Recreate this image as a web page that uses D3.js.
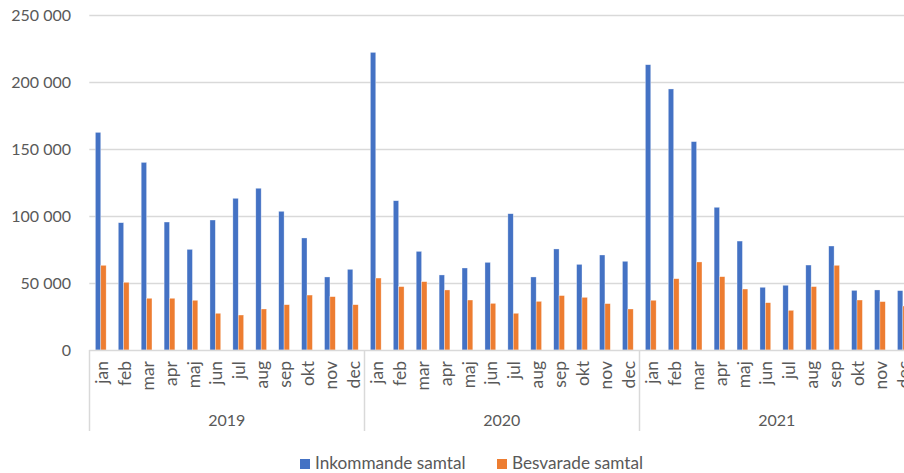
<!DOCTYPE html>
<html>
<head>
<meta charset="utf-8">
<script src="https://cdn.jsdelivr.net/npm/d3@7"></script>
<style>
  html, body { margin: 0; padding: 0; background: #fff; overflow: hidden; }
  svg { display: block; }
  text { font-family: Lato, "Liberation Sans", sans-serif; fill: #595959; }
</style>
</head>
<body>
<svg id="chart" width="904" height="473"></svg>
<script>
// Samtal per månad 2019–2021
const years = ["2019", "2020", "2021"];
const months = ["jan", "feb", "mar", "apr", "maj", "jun", "jul", "aug", "sep", "okt", "nov", "dec"];
const seriesNames = ["Inkommande samtal", "Besvarade samtal"];
const seriesColors = ["#4472C4", "#ED7D31"];

const inkommande2019 = [162400, 95000, 140000, 95500, 75100, 97000, 113200, 120700, 103500, 83600, 54500, 60200];
const inkommande2020 = [222100, 111400, 73600, 56000, 61200, 65400, 101700, 54500, 75400, 63900, 70900, 66200];
const inkommande2021 = [212900, 194800, 155500, 106500, 81300, 46800, 48300, 63400, 77600, 44500, 44800, 44300];

const besvarade2019 = [63200, 50500, 38600, 38600, 37100, 27400, 26100, 30600, 33800, 41000, 39800, 33800];
const besvarade2020 = [53700, 47300, 51000, 44800, 37300, 34800, 27400, 36300, 40600, 39300, 34600, 30600];
const besvarade2021 = [37100, 53200, 65700, 54700, 45500, 35300, 29600, 47300, 63200, 37300, 36100, 32800];

const yTicks = [0, 50000, 100000, 150000, 200000, 250000];

// Flat table: one row per month of each year
const inkommande = [inkommande2019, inkommande2020, inkommande2021];
const besvarade = [besvarade2019, besvarade2020, besvarade2021];
const rows = [];
years.forEach((yr, yi) => {
  months.forEach((m, mi) => {
    rows.push({ key: yr + "-" + m, year: yr, month: m, values: [inkommande[yi][mi], besvarade[yi][mi]] });
  });
});

const svg = d3.select("#chart");
const plot = { left: 89.3, right: 914.3, top: 15, bottom: 350 };

const x = d3.scaleBand()
  .domain(rows.map(d => d.key))
  .range([plot.left, plot.right])
  .paddingInner(0.53)
  .paddingOuter(0.265);

const xSeries = d3.scaleBand()
  .domain(d3.range(seriesNames.length))
  .range([0, x.bandwidth()])
  .padding(0);

const y = d3.scaleLinear().domain([0, 250000]).range([plot.bottom, plot.top]);

const fmt = d3.formatLocale({ decimal: ",", thousands: " ", grouping: [3], currency: ["", " kr"] }).format(",d");

// Horizontal gridlines
svg.append("g")
  .selectAll("line")
  .data(yTicks.filter(t => t > 0))
  .join("line")
  .attr("x1", plot.left).attr("x2", 904)
  .attr("y1", d => Math.round(y(d)) + 0.5).attr("y2", d => Math.round(y(d)) + 0.5)
  .attr("stroke", "#d9d9d9").attr("stroke-width", 1.3);

// Value axis labels
const yAxis = d3.axisLeft(y).tickValues(yTicks).tickFormat(fmt).tickSize(0).tickPadding(0);
svg.append("g")
  .attr("transform", "translate(71,0)")
  .call(yAxis)
  .call(g => g.select(".domain").remove())
  .call(g => g.selectAll("text")
    .attr("font-size", 16)
    .attr("fill", "#595959")
    .style("font-family", "Lato, 'Liberation Sans', sans-serif"));

// Bars
const groups = svg.append("g")
  .selectAll("g")
  .data(rows)
  .join("g")
  .attr("transform", d => `translate(${x(d.key)},0)`);

groups.selectAll("rect")
  .data(d => d.values.map((v, i) => ({ v, i })))
  .join("rect")
  .attr("x", d => xSeries(d.i))
  .attr("width", xSeries.bandwidth())
  .attr("y", d => y(d.v))
  .attr("height", d => y(0) - y(d.v))
  .attr("fill", d => seriesColors[d.i])
  .attr("stroke", "#ffffff")
  .attr("stroke-opacity", 0.55)
  .attr("stroke-width", 0.6);

// Category axis baseline
svg.append("line")
  .attr("x1", plot.left).attr("x2", 904)
  .attr("y1", plot.bottom + 0.5).attr("y2", plot.bottom + 0.5)
  .attr("stroke", "#d9d9d9").attr("stroke-width", 1.5);

// Month labels, rotated
svg.append("g")
  .selectAll("text")
  .data(rows)
  .join("text")
  .attr("transform", d => `translate(${x(d.key) + x.bandwidth() / 2 + 1},361) rotate(-90)`)
  .attr("text-anchor", "end")
  .attr("dy", "0.35em")
  .attr("font-size", 17.5)
  .text(d => d.month);

// Year group dividers and labels
const yearStep = (plot.right - plot.left) / years.length;
const dividers = d3.range(years.length + 1).map(i => plot.left + i * yearStep);
svg.append("g")
  .selectAll("line")
  .data(dividers)
  .join("line")
  .attr("x1", d => Math.round(d) + 0.5).attr("x2", d => Math.round(d) + 0.5)
  .attr("y1", plot.bottom).attr("y2", 431)
  .attr("stroke", "#d9d9d9").attr("stroke-width", 1.5);

svg.append("g")
  .selectAll("text")
  .data(years)
  .join("text")
  .attr("x", (d, i) => plot.left + (i + 0.5) * yearStep)
  .attr("y", 426)
  .attr("text-anchor", "middle")
  .attr("font-size", 16)
  .text(d => d);

// Legend
const legendX = [300, 497];
const legend = svg.append("g")
  .selectAll("g")
  .data(seriesNames)
  .join("g")
  .attr("transform", (d, i) => `translate(${legendX[i]},459)`);
legend.append("rect")
  .attr("width", 10).attr("height", 10)
  .attr("fill", (d, i) => seriesColors[i]);
legend.append("text")
  .attr("x", 15).attr("y", 9.5)
  .attr("font-size", 17.2)
  .text(d => d);
</script>
</body>
</html>
